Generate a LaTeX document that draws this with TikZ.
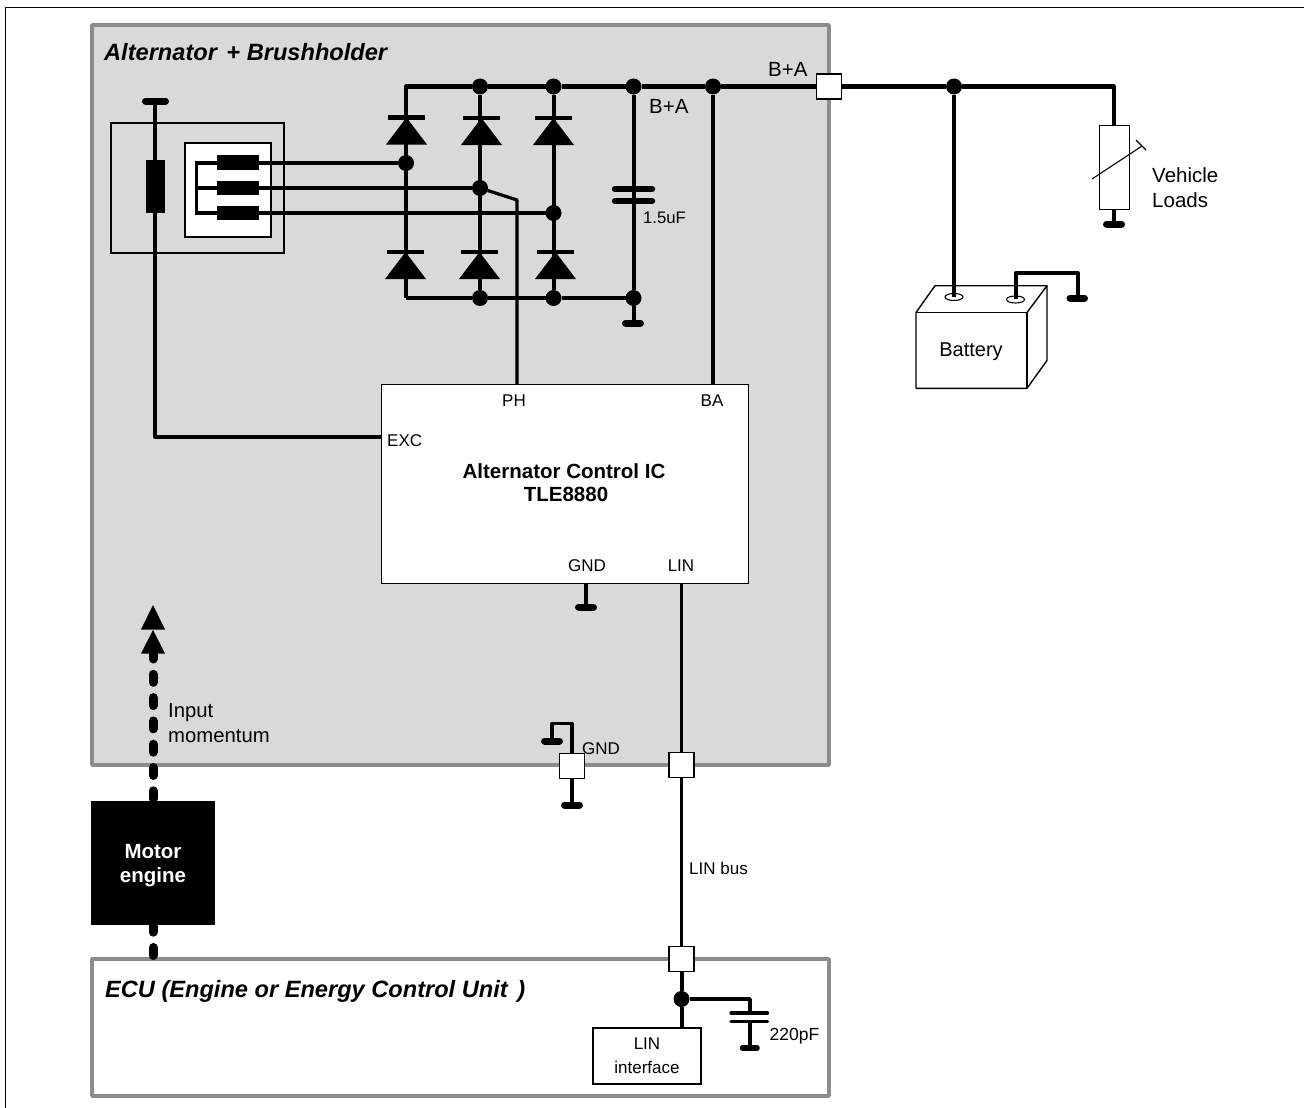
\documentclass[tikz,border=0pt]{standalone}
\usepackage{fontspec}
\setmainfont{Liberation Sans}
\definecolor{frameg}{HTML}{8C8C8C}
\definecolor{panelg}{HTML}{D9D9D9}
\tikzset{
  x=1pt,y=-1pt,
  wire/.style={line width=4pt,line join=round,black},
  thin wire/.style={line width=3.2pt,line join=round,black},
  outline/.style={draw=black,line width=1.4pt,outer sep=0pt},
  panel/.style={draw=frameg,line width=3.8pt,line join=round,outer sep=0pt,inner sep=0pt,anchor=north west},
  port/.style={draw=black,fill=white,line width=1.3pt,minimum size=25pt,inner sep=0pt,outer sep=0pt},
  dotn/.style={circle,fill=black,minimum size=16pt,inner sep=0pt,outer sep=0pt},
  gndbar/.style={line width=7pt,line cap=round,black},
  lbl/.style={font=\fontsize{17}{20}\selectfont,inner sep=0pt,anchor=west,align=left},
  lblb/.style={font=\fontsize{20.5}{24}\selectfont,inner sep=0pt,align=center},
  plate/.style={line width=6.5pt,line cap=round,black},
  ttl/.style={font=\fontsize{23.6}{28}\selectfont\bfseries\itshape,inner sep=0pt,anchor=west},
  momentum/.style={line width=9pt,line cap=round,dash pattern=on 8pt off 15.3pt,black},
}
% x of centre, y of bar
\newcommand{\diode}[2]{%
  \fill[black] (#1-20.5,#2+27) -- (#1+20.5,#2+27) -- (#1,#2) -- cycle;
  \draw[line width=4.6pt] (#1-18.5,#2) -- (#1+18.5,#2);
}
\begin{document}
\begin{tikzpicture}
\useasboundingbox (0,0) rectangle (1304,1108);
\draw[black,line width=1.2pt] (5.5,1108) -- (5.5,7.5) -- (1304,7.5);
% panels
\node[panel,fill=panelg,minimum width=737pt,minimum height=740pt] (alt) at (92,25) {};
\node[panel,fill=white,minimum width=737pt,minimum height=137pt] (ecu) at (92,959) {};
\node[ttl] (altt) at (104,52.5) {Alternator\kern3pt{} + Brushholder};
\node[ttl] (ecut) at (105,991.5) {ECU (Engine or Energy Control Unit\kern3pt{} )};

% brush holder
\node[outline,minimum width=173pt,minimum height=130pt,inner sep=0pt,anchor=north west] (bh) at (111,123) {};
\node[outline,line width=1.2pt,fill=white,minimum width=86pt,minimum height=94pt,inner sep=0pt,anchor=north west] (st) at (185,143) {};
\coordinate (gt) at (155,101);
\draw[gndbar] (145.5,101) -- (165.5,101);
\draw[thin wire] (gt) -- (155,437) -- (381,437);
\fill[black] (146,160) rectangle (165,213);

% nodes of the rectifier
\node[dotn] (t2) at (480,86.5) {};
\node[dotn] (t3) at (553.5,86.5) {};
\node[dotn] (t4) at (633.5,86.5) {};
\node[dotn] (t5) at (713,86.5) {};
\node[dotn] (m1) at (406,163) {};
\node[dotn] (m2) at (480,188) {};
\node[dotn] (m3) at (553.5,213) {};
\node[dotn] (b2) at (480,298) {};
\node[dotn] (b3) at (553.5,298) {};
\node[dotn] (b4) at (633.5,298) {};
\node[port] (bpa) at (829,86.5) {};
\node[dotn] (j) at (954,86.5) {};

% phase wires
\draw[thin wire] (196.5,163) -- (m1);
\draw[thin wire] (196.5,188) -- (m2);
\draw[thin wire] (196.5,213) -- (m3);
\draw[wire,line cap=rect,line width=3.4pt] (196.5,163) -- (196.5,213);
\fill[black] (217,155) rectangle (259,169.5);
\fill[black] (217,181) rectangle (259,195);
\fill[black] (217,206) rectangle (259,219.5);

% bridge
\draw[wire] (406,298) -- (406,86.5) -- (t2);
\draw[wire] (t2) -- (t3);
\draw[wire] (t3) -- (t4);
\draw[wire] (t4) -- (t5);
\draw[wire] (t5) -- (bpa);
\draw[wire] (t2) -- (b2);
\draw[wire] (t3) -- (b3);
\draw[wire] (406,298) -- (b2);
\draw[wire] (b2) -- (b3);
\draw[wire] (b3) -- (b4);
\draw[wire] (t4) -- (b4);
\diode{406.5}{117.5}
\diode{481.5}{118}
\diode{553.5}{118}
\diode{405.5}{252}
\diode{479.5}{252}
\diode{555.5}{252}
% capacitor
\draw[plate] (615,189) -- (652,189);
\draw[plate] (615,201) -- (652,201);
\node[lbl,font=\fontsize{16.7}{20}\selectfont] (c1) at (643,218) {1.5uF};
\draw[wire] (b4) -- (633.5,323);
\draw[gndbar] (625.5,323) -- (640.5,323);
\node[lbl,font=\fontsize{20.5}{24}\selectfont] (ba1) at (649,106) {B+A};
\node[lbl,font=\fontsize{20.5}{24}\selectfont] (ba2) at (768,69) {B+A};

% IC
\node[outline,fill=white,minimum width=367pt,minimum height=199pt,inner sep=0pt,anchor=north west] (ic) at (381.5,384.5) {};
\draw[thin wire] (m2) -- (517,200) -- (517,384);
\draw[thin wire] (t5) -- (713,384);
\node[lbl,anchor=center] (ph) at (514,400.5) {PH};
\node[lbl,anchor=center] (ba) at (712,400.5) {BA};
\node[lbl] (exc) at (387,440.5) {EXC};
\node[lblb,font=\fontsize{20.5}{23.5}\selectfont\bfseries] (ict) at (564,482.5) {Alternator Control IC\\\hspace*{4pt}TLE8880};
\node[lbl,anchor=center] (gnd) at (587,565.5) {GND};
\node[lbl,anchor=center] (lin) at (681,565.5) {LIN};
\draw[thin wire] (586,583) -- (586,607);
\draw[gndbar] (578.5,607) -- (593.5,607);

% LIN bus
\node[port] (p2) at (681.5,765) {};
\node[port] (p3) at (681.5,959) {};
\draw[thin wire] (681.5,583) -- (p2);
\draw[thin wire] (p2) -- (p3);
\node[lbl] (lb) at (689,868) {LIN bus};
% GND port
\node[port] (p1) at (572,766) {};
\draw[thin wire] (p1) -- (572,723.5) -- (552,723.5) -- (552,741);
\draw[gndbar] (544.5,741) -- (559.5,741);
\draw[wire] (p1) -- (572,805);
\draw[gndbar] (564.5,805) -- (579.5,805);
\node[lbl] (g2) at (582,748.5) {GND};

% ECU contents
\node[dotn] (e1) at (681.5,999) {};
\node[outline,line width=1.2pt,fill=white,minimum width=108pt,minimum height=56pt,inner sep=0pt,anchor=north west] (lif) at (593,1028) {};
\node[lbl,anchor=center,align=center,font=\fontsize{17}{23.5}\selectfont] (lift) at (647,1055.5) {LIN\\interface};
\draw[wire] (p3) -- (e1);
\draw[wire] (e1) -- (lif.north -| e1);
\draw[wire,line width=3.6pt] (e1) -- (750,999) -- (750,1013);
\draw[wire,line width=3.6pt] (750,1021) -- (750,1048);
\draw[line width=3.2pt,line cap=round] (731,1013) -- (767.5,1013);
\draw[line width=3.2pt,line cap=round] (731,1021.5) -- (767.5,1021.5);
\draw[gndbar,line width=5.5pt] (742.5,1048) -- (757,1048);
\node[lbl,font=\fontsize{17.5}{20}\selectfont] (cc) at (769.5,1036) {220pF};

% motor
\draw[momentum] (153,798.8) -- (153,650);
\draw[momentum] (153,955.5) -- (153,922);
\node[fill=black,minimum width=124pt,minimum height=124pt,inner sep=0pt,outer sep=0pt,anchor=north west] (mot) at (91,801) {};
\node[font=\fontsize{20.5}{24}\selectfont\bfseries,text=white,align=center,inner sep=0pt] (mott) at (153,866) {Motor\\engine};
\fill[black] (141,629.5) -- (165,629.5) -- (153,605) -- cycle;
\fill[black] (141,653.5) -- (165,653.5) -- (153,630) -- cycle;
\node[lbl,font=\fontsize{20.3}{25}\selectfont] (im) at (168,723.5) {Input\\momentum};

% right side
\draw[wire] (bpa) -- (j);
\draw[wire] (j) -- (1114,86.5) -- (1114,126);
\node[outline,fill=white,minimum width=29.5pt,minimum height=83.5pt,inner sep=0pt,anchor=north west] (res) at (1099.7,125.7) {};
\draw[line width=1.1pt] (1092,179) -- (1142,146);
\draw[line width=1.1pt] (1136,140) -- (1146,150);
\draw[wire] (1114,209) -- (1114,224);
\draw[gndbar] (1106.5,224) -- (1121.5,224);
\node[lbl,font=\fontsize{20.5}{25}\selectfont] (vl) at (1152,187.5) {Vehicle\\Loads};

% battery
\draw[outline,fill=white,line join=round] (916,312.5) -- (935,285.7) -- (1047,285.7) -- (1047,360.5) -- (1027,388.3) -- (916,388.3) -- cycle;
\draw[outline] (916,312.5) -- (1027,312.5) -- (1027,388.3);
\draw[outline] (1027,312.5) -- (1047,285.7);
\node[lblb,font=\fontsize{20}{24}\selectfont] (bat) at (971,352) {Battery};
\draw[black,line width=1.1pt,fill=white] (954,297) ellipse (9pt and 3.5pt);
\draw[black,line width=1.1pt,fill=white] (1015.5,299.5) ellipse (9pt and 3.5pt);
\draw[wire] (j) -- (954,297);
\draw[wire] (1015.5,299) -- (1015.5,273) -- (1077.5,273) -- (1077.5,298);
\draw[gndbar] (1070,298) -- (1084.5,298);
\end{tikzpicture}
\end{document}
